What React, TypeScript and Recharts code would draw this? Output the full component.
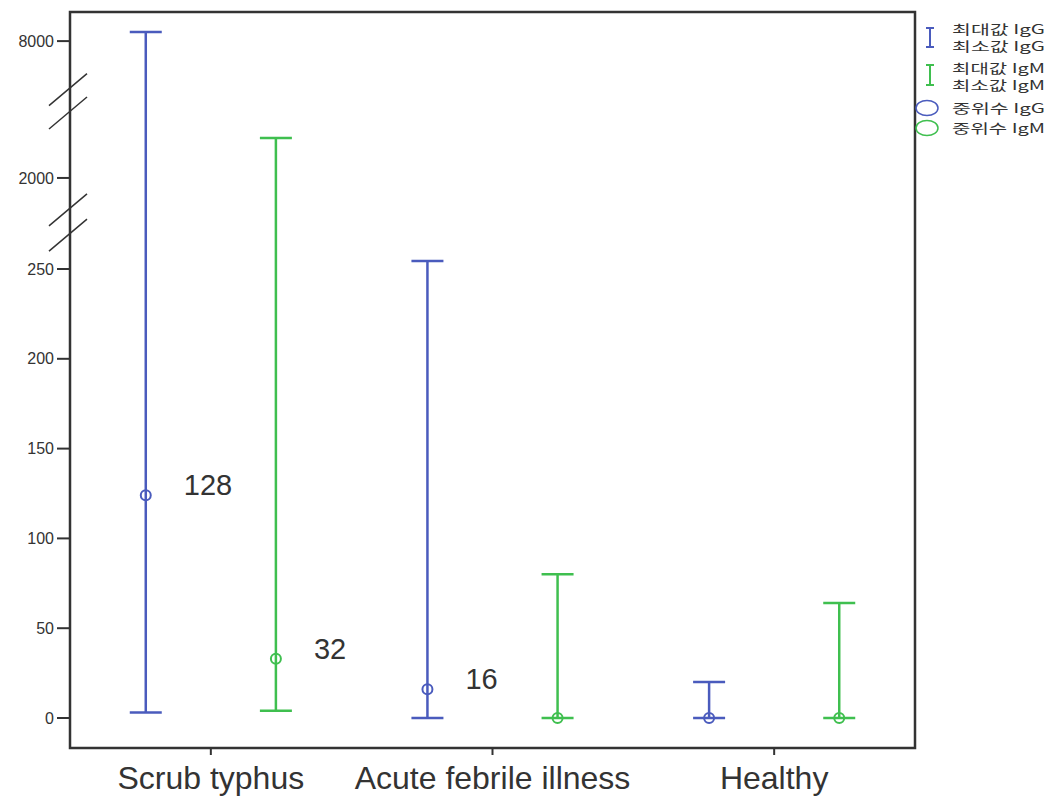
import React from 'react';
import {
  ScatterChart,
  Scatter,
  XAxis,
  YAxis,
  ErrorBar,
  ReferenceArea,
  ReferenceDot
} from 'recharts';

const categories = ['Scrub typhus', 'Acute febrile illness', 'Healthy'];

// IgG titers (max / min / median) per group
const iggMax = [8400, 405, 20];
const iggMin = [3, 0, 0];
const iggMedian = [124, 16, 0];
const iggLabels = ['128', '16', ''];

// IgM titers (max / min / median) per group
const igmMax = [3750, 80, 64];
const igmMin = [4, 0, 0];
const igmMedian = [33, 0, 0];
const igmLabels = ['32', '', ''];

const yTickValues = [0, 50, 100, 150, 200, 250, 2000, 8000];

const BLUE = '#4a5bbd';
const GREEN = '#3fbf4f';
const INK = '#333';

// broken y axis: linear up to 250, then compressed segments
const toDisplay = (v: number) => {
  if (v <= 250) return v;
  if (v <= 2000) return 250 + ((v - 250) * 50.7) / 1750;
  return 300.7 + ((v - 2000) * 76.2) / 6000;
};

const Y_MIN = -16.7;
const Y_MAX = 393.1;
const GROUP_OFFSET = 0.231;

// where the axis break marks sit (display units)
const breakMarks = [351, 338, 284, 270];

const buildSeries = (
  max: number[],
  min: number[],
  median: number[],
  labels: string[],
  offset: number
) =>
  categories.map((_, i) => {
    const m = toDisplay(median[i]);
    return {
      x: i + 0.5 + offset,
      y: m,
      err: [m - toDisplay(min[i]), toDisplay(max[i]) - m],
      label: labels[i]
    };
  });

const iggData = buildSeries(iggMax, iggMin, iggMedian, iggLabels, -GROUP_OFFSET);
const igmData = buildSeries(igmMax, igmMin, igmMedian, igmLabels, GROUP_OFFSET);

const yTicks = yTickValues.map(toDisplay);

const medianShape = (color: string) => (props: any) => {
  const { cx, cy, payload } = props;
  return (
    <g>
      <circle cx={cx} cy={cy} r={5} fill="none" stroke={color} strokeWidth={2} />
      {payload.label ? (
        <text
          x={cx + 38}
          y={cy}
          fontSize={29}
          fill={INK}
          fontFamily="'Liberation Sans', Arial, sans-serif"
        >
          {payload.label}
        </text>
      ) : null}
    </g>
  );
};

const CategoryTick = (props: any) => {
  const { x, y, payload } = props;
  const idx = Math.round(payload.value - 0.5);
  return (
    <g>
      <line x1={x} y1={y - 8} x2={x} y2={y - 1} stroke={INK} strokeWidth={2} />
      <text
        x={x}
        y={y + 33}
        textAnchor="middle"
        fontSize={32}
        fill={INK}
        fontFamily="'Liberation Sans', Arial, sans-serif"
      >
        {categories[idx]}
      </text>
    </g>
  );
};

const slash = (props: any) => {
  const { cx, cy } = props;
  return <line x1={cx - 21} y1={cy + 18} x2={cx + 17} y2={cy - 14} stroke={INK} strokeWidth={1.5} />;
};

const Legend = () => {
  const font = "'Noto Sans CJK KR', sans-serif";
  const txt = (y: number, s: string) => (
    <text x={40} y={y} fontSize={13} fill={INK} fontFamily={font} textLength={93} lengthAdjust="spacingAndGlyphs">
      {s}
    </text>
  );
  const ibar = (y1: number, y2: number, c: string) => (
    <g stroke={c} strokeWidth={2}>
      <line x1={18} y1={y1} x2={18} y2={y2} />
      <line x1={14} y1={y1} x2={22} y2={y1} />
      <line x1={14} y1={y2} x2={22} y2={y2} />
    </g>
  );
  return (
    <svg
      width={140}
      height={140}
      style={{ position: 'absolute', left: 904, top: 2 }}
    >
      {ibar(18, 37, BLUE)}
      {txt(24, '최대값 IgG')}
      {txt(41, '최소값 IgG')}
      {ibar(55, 75, GREEN)}
      {txt(63, '최대값 IgM')}
      {txt(80, '최소값 IgM')}
      <ellipse cx={15} cy={98} rx={11} ry={7.5} fill="none" stroke={BLUE} strokeWidth={1.5} />
      {txt(103, '중위수 IgG')}
      <ellipse cx={15} cy={118} rx={11} ry={7.5} fill="none" stroke={GREEN} strokeWidth={1.5} />
      {txt(123, '중위수 IgM')}
    </svg>
  );
};

const App: React.FC = () => {
  return (
    <div style={{ position: 'relative', width: 1044, height: 788 }}>
      <ScatterChart
        width={1044}
        height={788}
        margin={{ top: 4, right: 137, left: 0, bottom: 0 }}
      >
        <XAxis
          type="number"
          dataKey="x"
          domain={[0, 3]}
          ticks={[0.5, 1.5, 2.5]}
          tick={CategoryTick}
          tickLine={false}
          axisLine={false}
          height={48}
          allowDataOverflow
        />
        <YAxis
          type="number"
          dataKey="y"
          domain={[Y_MIN, Y_MAX]}
          ticks={yTicks}
          tickFormatter={(v: number) => {
            const i = yTicks.findIndex((t) => Math.abs(t - v) < 0.01);
            return i >= 0 ? String(yTickValues[i]) : '';
          }}
          tick={{ fontSize: 16, fill: INK, fontFamily: "'Liberation Sans', Arial, sans-serif" }}
          tickSize={13}
          tickMargin={3}
          tickLine={{ stroke: INK, strokeWidth: 2 }}
          axisLine={false}
          width={62}
          allowDataOverflow
        />
        <ReferenceArea
          x1={0}
          x2={3}
          y1={Y_MIN}
          y2={Y_MAX}
          fill="none"
          stroke={INK}
          strokeWidth={2.5}
          ifOverflow="visible"
        />
        {breakMarks.map((b) => (
          <ReferenceDot key={b} x={0} y={b} shape={slash} ifOverflow="visible" />
        ))}
        <Scatter data={iggData} shape={medianShape(BLUE)} isAnimationActive={false}>
          <ErrorBar dataKey="err" direction="y" width={16} stroke={BLUE} strokeWidth={2.5} isAnimationActive={false} />
        </Scatter>
        <Scatter data={igmData} shape={medianShape(GREEN)} isAnimationActive={false}>
          <ErrorBar dataKey="err" direction="y" width={16} stroke={GREEN} strokeWidth={2.5} isAnimationActive={false} />
        </Scatter>
      </ScatterChart>
      <Legend />
    </div>
  );
};

export default App;
